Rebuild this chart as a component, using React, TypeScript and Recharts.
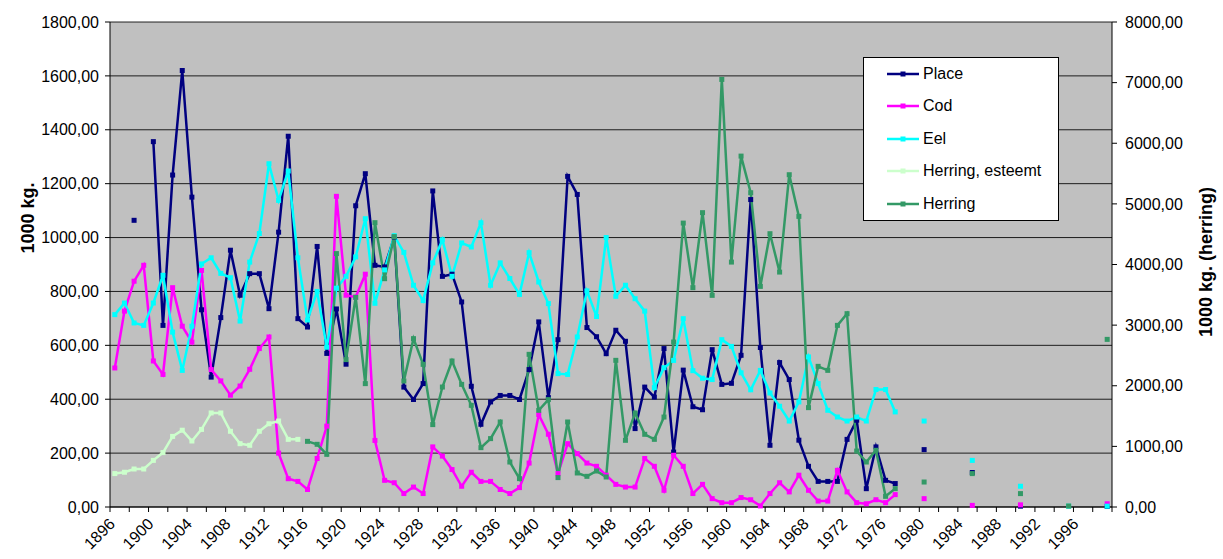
import React from "react";
import { CartesianGrid, Line, LineChart, XAxis, YAxis } from "recharts";

// yearly landings 1896-1977, then a few sparse later years
const firstYear = 1896;
const lastYear = 1999;

const place = [
  null, null, 1064, null, 1356, 674, 1232, 1620, 1150, 732,
  482, 703, 953, 786, 866, 866, 736, 1020, 1376, 699,
  668, 967, 570, 735, 530, 1118, 1237, 897, 891, 1002,
  445, 399, 458, 1173, 856, 864, 761, 448, 307, 390,
  414, 414, 399, 510, 687, 406, 621, 1227, 1160, 666,
  632, 569, 656, 615, 291, 445, 408, 588, 204, 508,
  372, 361, 584, 455, 459, 563, 1141, 592, 229, 536,
  473, 248, 151, 95, 95, 95, 251, 322, 68, 223,
  99, 87,
];

const cod = [
  516, 727, 838, 897, 542, 492, 814, 671, 612, 878,
  510, 468, 415, 449, 511, 588, 631, 200, 105, 95,
  65, 180, 300, 1153, 786, 779, 864, 247, 99, 90,
  50, 74, 50, 223, 189, 139, 77, 129, 95, 95,
  65, 50, 72, 163, 343, 270, 124, 235, 198, 163,
  151, 118, 84, 74, 74, 180, 151, 62, 192, 151,
  50, 84, 31, 16, 16, 35, 27, 4, 50, 90,
  56, 118, 62, 22, 22, 136, 56, 16, 12, 27,
  16, 46,
];

const eel = [
  714, 757, 683, 674, 757, 860, 649, 507, 671, 902,
  925, 867, 851, 690, 909, 1015, 1274, 1138, 1247, 925,
  694, 800, 593, 812, 856, 928, 1070, 756, 880, 1007,
  945, 823, 766, 906, 992, 856, 980, 965, 1055, 823,
  906, 848, 789, 944, 835, 755, 495, 492, 631, 802,
  707, 1000, 782, 823, 773, 727, 443, 517, 544, 699,
  506, 478, 473, 621, 596, 498, 435, 507, 423, 374,
  319, 390, 557, 458, 359, 334, 319, 334, 319, 436,
  436, 353,
];

// 1896-1915
const herringEst = [
  124, 129, 141, 141, 173, 202, 262, 285, 245, 288,
  349, 349, 281, 235, 229, 281, 309, 319, 251, 251,
];

// 1916-1977 (right axis)
const herring = [
  1083, 1034, 869, 4180, 2431, 3458, 2035, 4690, 3766, 4460,
  2078, 2777, 2353, 1359, 1979, 2408, 2023, 1677, 979, 1128,
  1402, 742, 468, 2518, 1595, 1771, 485, 1402, 561, 506,
  594, 495, 2419, 1100, 1550, 1199, 1116, 1484, 2721, 4683,
  3618, 4855, 3491, 7053, 4040, 5788, 5184, 3639, 4508, 3875,
  5481, 4794, 1639, 2320, 2254, 2996, 3189, 923, 742, 935,
  176, 303,
];

const laterYears = [1980, 1985, 1990, 1995, 1999];
const laterPlace = [213, 128, 3, null, 2];
const laterCod = [31, 6, 8, null, 12];
const laterEel = [319, 173, 77, 3, 3];
const laterHerring = [412, 551, 221, 16, 2765];

const leftTicks = [0, 200, 400, 600, 800, 1000, 1200, 1400, 1600, 1800];
const rightTicks = [0, 1000, 2000, 3000, 4000, 5000, 6000, 7000, 8000];

const series = [
  { key: "place", name: "Place", color: "#000080", axis: "left" },
  { key: "cod", name: "Cod", color: "#ff00ff", axis: "left" },
  { key: "eel", name: "Eel", color: "#00ffff", axis: "left" },
  { key: "herringEst", name: "Herring, esteemt", color: "#ccffcc", axis: "left" },
  { key: "herring", name: "Herring", color: "#339966", axis: "right" },
];

const rows: any[] = [];
for (let y = firstYear; y <= lastYear; y++) {
  const i = y - firstYear;
  const row: any = {
    year: y,
    place: i < place.length ? place[i] : null,
    cod: i < cod.length ? cod[i] : null,
    eel: i < eel.length ? eel[i] : null,
    herringEst: i < herringEst.length ? herringEst[i] : null,
    herring: y >= 1916 && y - 1916 < herring.length ? herring[y - 1916] : null,
  };
  const j = laterYears.indexOf(y);
  if (j >= 0) {
    row.place = laterPlace[j];
    row.cod = laterCod[j];
    row.eel = laterEel[j];
    row.herring = laterHerring[j];
  }
  rows.push(row);
}

const xTicks: number[] = [];
for (let b = firstYear - 0.5; b <= lastYear + 0.5; b += 2) xTicks.push(b);

const fmt = (v: number) => v.toFixed(2).replace(".", ",");
const font = "'Liberation Sans', Arial, sans-serif";

function YearTick(props: any) {
  const { x, y, payload } = props;
  const yr = payload.value + 0.5;
  if ((yr - firstYear) % 4 !== 0 || yr > lastYear) return <g />;
  const ax = x + 6;
  const ay = y + 11;
  return (
    <text x={ax} y={ay} textAnchor="end" fontSize={16} fontFamily={font} fill="#000" transform={`rotate(-45 ${ax} ${ay})`}>
      {yr}
    </text>
  );
}

const squareDot = (color: string) => (props: any) => {
  const { cx, cy, index, value } = props;
  if (cx == null || cy == null || value == null) return <g key={index} />;
  return <rect key={index} x={cx - 2.5} y={cy - 2.5} width={5} height={5} fill={color} />;
};

function Legend() {
  return (
    <div
      style={{
        position: "absolute",
        left: 863,
        top: 57,
        width: 196,
        height: 164,
        background: "#fff",
        border: "1px solid #000",
        boxSizing: "border-box",
        fontFamily: font,
        fontSize: 16,
      }}
    >
      {series.map((s, i) => (
        <div key={s.key} style={{ position: "absolute", left: 22, top: 6 + i * 32.4, height: 20, display: "flex", alignItems: "center" }}>
          <svg width={34} height={10} style={{ marginRight: 3 }}>
            <line x1={1} y1={5} x2={33} y2={5} stroke={s.color} strokeWidth={2.5} />
            <rect x={14.5} y={2.5} width={5} height={5} fill={s.color} />
          </svg>
          <span>{s.name}</span>
        </div>
      ))}
    </div>
  );
}

export default function App() {
  return (
    <div style={{ position: "absolute", left: 0, top: 0, width: 1223, height: 559, background: "#fff" }}>
      <LineChart width={1223} height={559} data={rows} margin={{ top: 22, right: 0, bottom: 0, left: 0 }}>
        <CartesianGrid yAxisId="left" vertical={false} fill="#c0c0c0" fillOpacity={1} stroke="#000" strokeOpacity={0.85} />
        <XAxis
          dataKey="year"
          type="number"
          domain={[firstYear - 0.5, lastYear + 0.5]}
          ticks={xTicks}
          interval={0}
          height={52}
          tick={<YearTick />}
          tickSize={5}
          axisLine={{ stroke: "#000" }}
          tickLine={{ stroke: "#000" }}
          allowDataOverflow
        />
        <YAxis
          yAxisId="left"
          width={110}
          domain={[0, 1800]}
          ticks={leftTicks}
          interval={0}
          tickFormatter={fmt}
          tickSize={5}
          tickMargin={6}
          tick={{ fill: "#000", fontSize: 16, fontFamily: font }}
          axisLine={{ stroke: "#000" }}
          tickLine={{ stroke: "#000" }}
          label={{
            content: () => (
              <text x={34} y={218} transform="rotate(-90 34 218)" textAnchor="middle" fontSize={18} fontWeight="bold" fontFamily={font} fill="#000">
                1000 kg.
              </text>
            ),
          }}
        />
        <YAxis
          yAxisId="right"
          orientation="right"
          width={111}
          domain={[0, 8000]}
          ticks={rightTicks}
          interval={0}
          tickFormatter={fmt}
          tickSize={5}
          tickMargin={8}
          tick={{ fill: "#000", fontSize: 16, fontFamily: font }}
          axisLine={{ stroke: "#000" }}
          tickLine={{ stroke: "#000" }}
          label={{
            content: () => (
              <text x={1212} y={262} transform="rotate(-90 1212 262)" textAnchor="middle" fontSize={18} fontWeight="bold" fontFamily={font} fill="#000">
                1000 kg. (herring)
              </text>
            ),
          }}
        />
        {series.map((s) => (
          <Line
            key={s.key}
            yAxisId={s.axis}
            dataKey={s.key}
            name={s.name}
            stroke={s.color}
            strokeWidth={2.5}
            dot={squareDot(s.color)}
            activeDot={false}
            connectNulls={false}
            isAnimationActive={false}
            type="linear"
          />
        ))}
      </LineChart>
      <Legend />
    </div>
  );
}
